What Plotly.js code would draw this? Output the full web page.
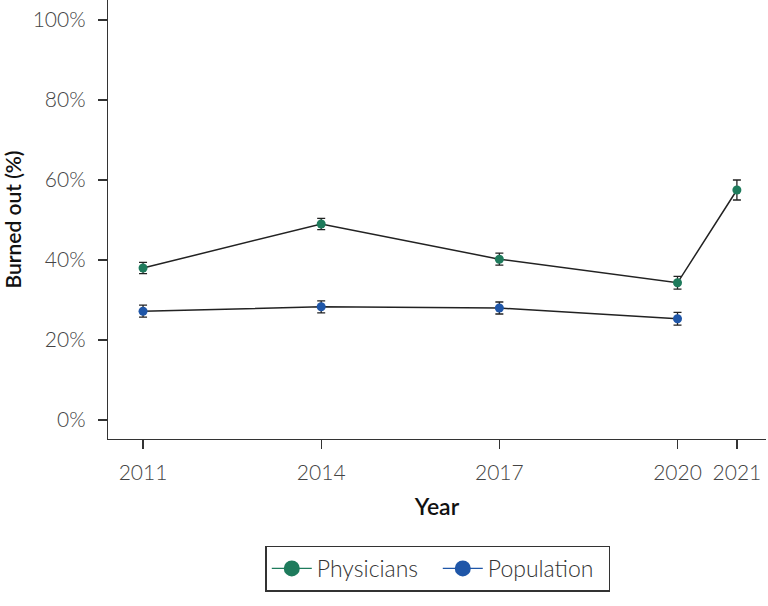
<!DOCTYPE html>
<html>
<head>
<meta charset="utf-8">
<script src="https://cdn.plot.ly/plotly-3.0.1.min.js"></script>
<style>html,body{margin:0;padding:0;background:#fff;}#chart{width:768px;height:606px;}</style>
</head>
<body>
<div id="chart"></div>
<script>
const years = [2011, 2014, 2017, 2020, 2021];
const physicians = [38.0, 49.0, 40.2, 34.3, 57.5];
const physiciansErr = [1.4, 1.4, 1.5, 1.6, 2.5];
const popYears = [2011, 2014, 2017, 2020];
const population = [27.2, 28.3, 28.0, 25.3];
const populationErr = [1.5, 1.5, 1.5, 1.6];
const yTicks = [0, 20, 40, 60, 80, 100];
const yTickLabels = ['0%', '20%', '40%', '60%', '80%', '100%'];
const seriesNames = ['Physicians', 'Population'];
const seriesColors = ['#1e7b5c', '#1f56a8'];

const fam = 'Lato, "Open Sans", sans-serif';
const tickFont = {family: fam, size: 21, color: '#444', weight: 300};

const traces = [
  {
    x: years, y: physicians, name: seriesNames[0], type: 'scatter', mode: 'lines+markers',
    showlegend: false,
    line: {color: '#222', width: 1.5},
    marker: {color: seriesColors[0], size: 9},
    error_y: {type: 'data', array: physiciansErr, visible: true, color: '#222', thickness: 1.3, width: 4}
  },
  {
    x: popYears, y: population, name: seriesNames[1], type: 'scatter', mode: 'lines+markers',
    showlegend: false,
    line: {color: '#222', width: 1.5},
    marker: {color: seriesColors[1], size: 9},
    error_y: {type: 'data', array: populationErr, visible: true, color: '#222', thickness: 1.3, width: 4}
  }
];
seriesNames.forEach((n, i) => {
  traces.push({
    x: [null], y: [null], name: n, type: 'scatter', mode: 'lines+markers',
    line: {color: seriesColors[i], width: 1.2},
    marker: {color: seriesColors[i], size: 16}
  });
});

const layout = {
  width: 768, height: 606,
  margin: {l: 108, r: 2, t: 0, b: 167},
  paper_bgcolor: '#fff', plot_bgcolor: '#fff',
  showlegend: true,
  legend: {
    orientation: 'h', x: 0.5015, xanchor: 'center', xref: 'paper',
    y: -0.243, yanchor: 'top',
    bordercolor: '#333', borderwidth: 1.3,
    font: {family: fam, size: 23, color: '#333', weight: 300},
    itemwidth: 40, entrywidth: 116, entrywidthmode: 'pixels'
  },
  xaxis: {
    range: [2010.41, 2021.49],
    tickvals: years, ticktext: years.map(String),
    ticks: 'outside', ticklen: 9, tickwidth: 1.2, tickcolor: '#333',
    showgrid: false, zeroline: false,
    showline: true, linecolor: '#333', linewidth: 1.2,
    tickfont: tickFont, ticklabelstandoff: 6,
    title: {text: 'Year', font: {family: fam, size: 23, color: '#111', weight: 600}, standoff: 15}
  },
  yaxis: {
    range: [-4.75, 105],
    tickvals: yTicks, ticktext: yTickLabels,
    ticks: 'outside', ticklen: 9, tickwidth: 1.2, tickcolor: '#333',
    showgrid: false, zeroline: false,
    showline: true, linecolor: '#333', linewidth: 1.2,
    tickfont: tickFont, ticklabelstandoff: 8,
    title: {text: 'Burned out (%)', font: {family: fam, size: 21, color: '#111', weight: 600}, standoff: 10}
  }
};

Plotly.newPlot('chart', traces, layout, {displayModeBar: false, staticPlot: true});
</script>
</body>
</html>
